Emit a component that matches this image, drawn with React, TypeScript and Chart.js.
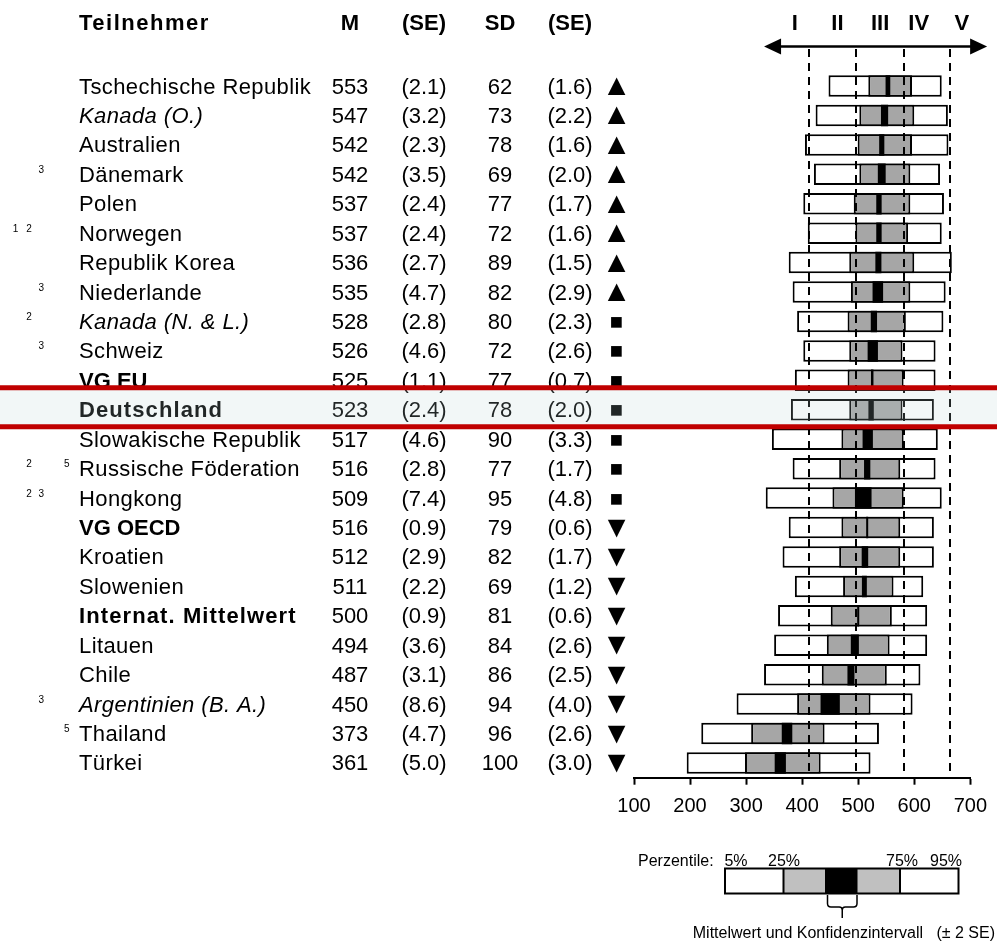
import React, { useEffect, useRef } from "react";
import { Chart, registerables } from "chart.js";

Chart.register(...registerables);

// ---------- DATA ----------
const countries = [
  "Tschechische Republik",
  "Kanada (O.)",
  "Australien",
  "Dänemark",
  "Polen",
  "Norwegen",
  "Republik Korea",
  "Niederlande",
  "Kanada (N. & L.)",
  "Schweiz",
  "VG EU",
  "Deutschland",
  "Slowakische Republik",
  "Russische Föderation",
  "Hongkong",
  "VG OECD",
  "Kroatien",
  "Slowenien",
  "Internat. Mittelwert",
  "Litauen",
  "Chile",
  "Argentinien (B. A.)",
  "Thailand",
  "Türkei",
];

// n = normal, i = italic, b = bold, bs = bold with letter spacing
const rowStyles = [
  "n", "i", "n", "n", "n", "n", "n", "n", "i", "n", "b", "bs",
  "n", "n", "n", "b", "n", "n", "bs", "n", "n", "i", "n", "n",
];

const footnotes: number[][] = [
  [], [], [], [3], [], [1, 2], [], [3], [2], [3], [], [],
  [], [2, 5], [2, 3], [], [], [], [], [], [], [3], [5], [],
];

const means = [553, 547, 542, 542, 537, 537, 536, 535, 528, 526, 525, 523, 517, 516, 509, 516, 512, 511, 500, 494, 487, 450, 373, 361];
const meanSE = [2.1, 3.2, 2.3, 3.5, 2.4, 2.4, 2.7, 4.7, 2.8, 4.6, 1.1, 2.4, 4.6, 2.8, 7.4, 0.9, 2.9, 2.2, 0.9, 3.6, 3.1, 8.6, 4.7, 5.0];
const sds = [62, 73, 78, 69, 77, 72, 89, 82, 80, 72, 77, 78, 90, 77, 95, 79, 82, 69, 81, 84, 86, 94, 96, 100];
const sdSE = [1.6, 2.2, 1.6, 2.0, 1.7, 1.6, 1.5, 2.9, 2.3, 2.6, 0.7, 2.0, 3.3, 1.7, 4.8, 0.6, 1.7, 1.2, 0.6, 2.6, 2.5, 4.0, 2.6, 3.0];
const signif = [
  "▲", "▲", "▲", "▲", "▲", "▲", "▲", "▲",
  "■", "■", "■", "■", "■", "■", "■",
  "▼", "▼", "▼", "▼", "▼", "▼", "▼", "▼", "▼",
];

const p5 = [447, 424, 405, 421, 402, 410, 376, 383, 391, 402, 387, 380, 346, 383, 335, 376, 365, 387, 357, 350, 332, 283, 220, 194];
const p25 = [518, 502, 499, 502, 492, 495, 484, 487, 481, 484, 481, 484, 470, 466, 454, 470, 466, 473, 451, 444, 435, 391, 309, 298];
const p75 = [596, 600, 596, 593, 593, 589, 600, 593, 585, 579, 581, 579, 581, 575, 581, 575, 575, 563, 560, 556, 551, 522, 440, 433];
const p95 = [649, 660, 661, 646, 653, 649, 667, 656, 652, 638, 638, 635, 642, 638, 649, 635, 635, 616, 623, 623, 611, 597, 537, 522];

const xTicks = [100, 200, 300, 400, 500, 600, 700];
const benchmarks = [413, 496, 581, 664];
const levelLabels = ["I", "II", "III", "IV", "V"];
const levelLabelPos = [387, 463, 539, 608, 685];
const arrowRange = [332, 730];

const headers = ["M", "(SE)", "SD", "(SE)"];
const highlightRow = "Deutschland";

const legendPercentLabels = ["5%", "25%", "75%", "95%"];

const FONT = '"Liberation Sans", Arial, Helvetica, sans-serif';

export default function App() {
  const ref = useRef<HTMLCanvasElement | null>(null);

  useEffect(() => {
    if (!ref.current) return;
    const ciData = means.map((m, i) => [m - 2 * meanSE[i], m + 2 * meanSE[i]]);
    const iqrData = p25.map((v, i) => [v, p75[i]]);
    const rangeData = p5.map((v, i) => [v, p95[i]]);

    const tablePlugin = {
      id: "tablePlugin",
      afterDraw(chart: any) {
        const ctx: CanvasRenderingContext2D = chart.ctx;
        const xs = chart.scales.x;
        const ys = chart.scales.y;
        const area = chart.chartArea;
        ctx.save();

        // dashed benchmark lines
        ctx.strokeStyle = "#000";
        ctx.lineWidth = 2;
        ctx.setLineDash([8, 6]);
        benchmarks.forEach((v) => {
          const px = Math.round(xs.getPixelForValue(v));
          ctx.beginPath();
          ctx.moveTo(px, 49);
          ctx.lineTo(px, area.bottom);
          ctx.stroke();
        });
        ctx.setLineDash([]);

        // double arrow
        const ax0 = xs.getPixelForValue(arrowRange[0]);
        const ax1 = xs.getPixelForValue(arrowRange[1]);
        const ay = 46.5;
        ctx.lineWidth = 2.5;
        ctx.beginPath();
        ctx.moveTo(ax0 + 10, ay);
        ctx.lineTo(ax1 - 10, ay);
        ctx.stroke();
        ctx.fillStyle = "#000";
        ctx.beginPath();
        ctx.moveTo(ax0, ay);
        ctx.lineTo(ax0 + 17, ay - 8);
        ctx.lineTo(ax0 + 17, ay + 8);
        ctx.closePath();
        ctx.fill();
        ctx.beginPath();
        ctx.moveTo(ax1, ay);
        ctx.lineTo(ax1 - 17, ay - 8);
        ctx.lineTo(ax1 - 17, ay + 8);
        ctx.closePath();
        ctx.fill();

        // level labels
        ctx.font = `bold 22px ${FONT}`;
        ctx.textAlign = "center";
        ctx.textBaseline = "alphabetic";
        levelLabels.forEach((t, i) => {
          ctx.fillText(t, xs.getPixelForValue(levelLabelPos[i]), 30);
        });

        // header
        ctx.textAlign = "left";
        (ctx as any).letterSpacing = "1.5px";
        ctx.fillText("Teilnehmer", 79, 30);
        (ctx as any).letterSpacing = "0px";
        ctx.textAlign = "center";
        const colX = [350, 424, 500, 570];
        headers.forEach((h, i) => ctx.fillText(h, colX[i], 30));

        // rows
        const noteX: Record<number, number> = { 1: 15.5, 2: 29, 3: 41.3, 5: 66.7 };
        countries.forEach((name, i) => {
          const yc = ys.getPixelForValue(i);
          const base = yc + 7.5;
          const st = rowStyles[i];
          let font = `22px ${FONT}`;
          let ls = "0.4px";
          if (st === "i") font = `italic 22px ${FONT}`;
          if (st === "b") { font = `bold 22px ${FONT}`; ls = "0px"; }
          if (st === "bs") { font = `bold 22px ${FONT}`; ls = "1.1px"; }
          ctx.font = font;
          (ctx as any).letterSpacing = ls;
          ctx.textAlign = "left";
          ctx.fillText(name, 79, base);
          (ctx as any).letterSpacing = "0px";

          ctx.font = `22px ${FONT}`;
          ctx.textAlign = "center";
          ctx.fillText(String(means[i]), colX[0], base);
          ctx.fillText(`(${meanSE[i].toFixed(1)})`, colX[1], base);
          ctx.fillText(String(sds[i]), colX[2], base);
          ctx.fillText(`(${sdSE[i].toFixed(1)})`, colX[3], base);
          if (signif[i] === "■") {
            ctx.font = `22px ${FONT}`;
            ctx.fillText(signif[i], 616.5, base);
          } else {
            ctx.font = `30px ${FONT}`;
            ctx.fillText(signif[i], 616.5, yc + 9);
          }

          ctx.font = `10px ${FONT}`;
          footnotes[i].forEach((n) => {
            ctx.fillText(String(n), noteX[n], yc - 1.5);
          });
        });

        // highlight band
        const hi = countries.indexOf(highlightRow);
        const hy = ys.getPixelForValue(hi);
        const top = hy - 22;
        const bot = hy + 17;
        ctx.fillStyle = "rgba(185,211,211,0.18)";
        ctx.fillRect(0, top, chart.width, bot - top);
        ctx.strokeStyle = "#c00000";
        ctx.lineWidth = 5;
        ctx.beginPath();
        ctx.moveTo(0, top);
        ctx.lineTo(chart.width, top);
        ctx.moveTo(0, bot);
        ctx.lineTo(chart.width, bot);
        ctx.stroke();

        // legend
        ctx.fillStyle = "#000";
        ctx.font = `16px ${FONT}`;
        ctx.textAlign = "left";
        ctx.fillText("Perzentile:", 638, 866);
        ctx.textAlign = "center";
        const pctX = [736, 784, 902, 946];
        legendPercentLabels.forEach((t, i) => ctx.fillText(t, pctX[i], 866));

        const lx = [725, 783.5, 826, 856.5, 900, 958.5];
        const lt = 868.5;
        const lb = 893.5;
        ctx.fillStyle = "#fff";
        ctx.fillRect(lx[0], lt, lx[5] - lx[0], lb - lt);
        ctx.fillStyle = "#c0c0c0";
        ctx.fillRect(lx[1], lt, lx[2] - lx[1], lb - lt);
        ctx.fillRect(lx[3], lt, lx[4] - lx[3], lb - lt);
        ctx.fillStyle = "#000";
        ctx.fillRect(lx[2], lt, lx[3] - lx[2], lb - lt);
        ctx.strokeStyle = "#000";
        ctx.lineWidth = 2;
        ctx.strokeRect(lx[0], lt, lx[5] - lx[0], lb - lt);
        ctx.beginPath();
        [1, 2, 3, 4].forEach((k) => {
          ctx.moveTo(lx[k], lt);
          ctx.lineTo(lx[k], lb);
        });
        ctx.stroke();

        // bracket
        ctx.lineWidth = 1.5;
        const bl = 827.5, br = 857, bm = (bl + br) / 2;
        ctx.beginPath();
        ctx.moveTo(bl, 895);
        ctx.lineTo(bl, 903.5);
        ctx.quadraticCurveTo(bl, 907, bl + 3.5, 907);
        ctx.lineTo(bm - 3, 907);
        ctx.quadraticCurveTo(bm, 907, bm, 910);
        ctx.quadraticCurveTo(bm, 907, bm + 3, 907);
        ctx.lineTo(br - 3.5, 907);
        ctx.quadraticCurveTo(br, 907, br, 903.5);
        ctx.lineTo(br, 895);
        ctx.moveTo(bm, 909);
        ctx.lineTo(bm, 918);
        ctx.stroke();

        ctx.font = `16px ${FONT}`;
        ctx.textAlign = "right";
        ctx.fillText("Mittelwert und Konfidenzintervall   (± 2 SE)", 995, 938);

        ctx.restore();
      },
    };

    const common = {
      grouped: false,
      barPercentage: 0.73,
      categoryPercentage: 1,
      borderSkipped: false,
    };

    const chart = new Chart(ref.current, {
      type: "bar",
      data: {
        labels: countries,
        datasets: [
          { label: "Mittelwert ± 2 SE", data: ciData as any, backgroundColor: "#000", borderColor: "#000", borderWidth: 0, ...common },
          { label: "25%–75%", data: iqrData as any, backgroundColor: "#a6a6a6", borderColor: "#000", borderWidth: 2, ...common },
          { label: "5%–95%", data: rangeData as any, backgroundColor: "#fff", borderColor: "#000", borderWidth: 2, ...common },
        ],
      },
      options: {
        indexAxis: "y",
        animation: false,
        responsive: true,
        maintainAspectRatio: false,
        layout: { padding: { left: 634, right: 24, top: 71.3, bottom: 124.3 } },
        plugins: { legend: { display: false }, tooltip: { enabled: false } },
        scales: {
          x: {
            type: "linear",
            position: "bottom",
            min: xTicks[0],
            max: xTicks[xTicks.length - 1],
            afterFit: (s: any) => { s.height = 40; },
            afterBuildTicks: (s: any) => { s.ticks = xTicks.map((v) => ({ value: v })); },
            ticks: { color: "#000", font: { family: FONT, size: 20 }, padding: 10, maxRotation: 0 },
            grid: { display: true, drawOnChartArea: false, drawTicks: true, tickLength: 7, tickWidth: 2, tickColor: "#000" },
            border: { display: true, color: "#000", width: 2 },
          },
          y: { type: "category", display: false, offset: true, grid: { display: false } },
        },
      } as any,
      plugins: [tablePlugin],
    });
    return () => chart.destroy();
  }, []);

  return (
    <div style={{ position: "absolute", left: 0, top: 0, width: 997, height: 942, background: "#fff" }}>
      <canvas ref={ref} />
    </div>
  );
}
